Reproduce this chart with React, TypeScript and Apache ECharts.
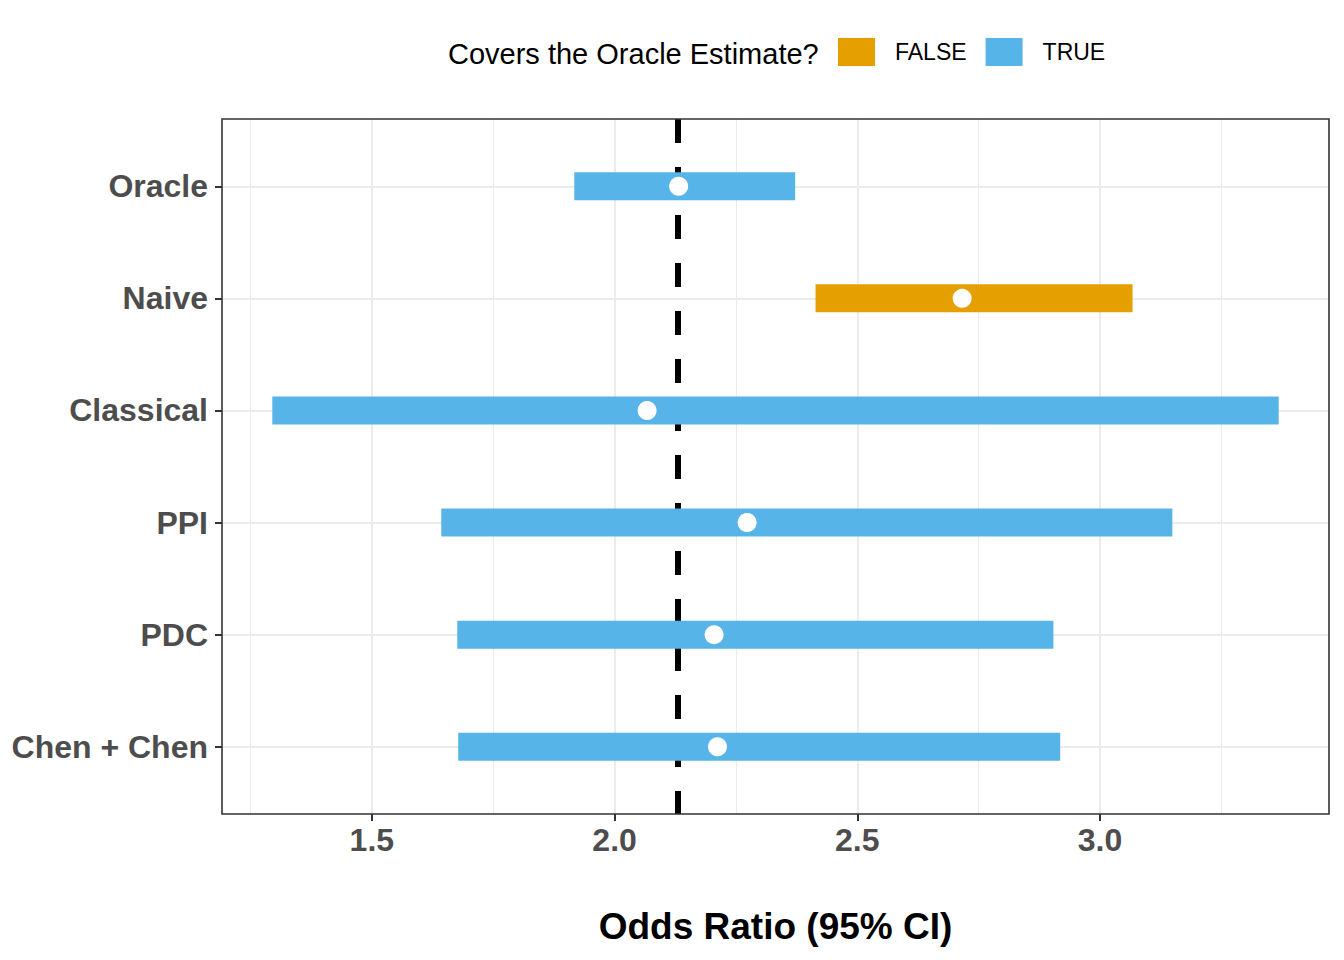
import React, { useEffect, useRef } from "react";
import * as echarts from "echarts";

// ---- Data ----
const methods = ["Oracle", "Naive", "Classical", "PPI", "PDC", "Chen + Chen"];
const estimates = [2.132, 2.716, 2.067, 2.273, 2.205, 2.212];
const lowerCI = [1.917, 2.414, 1.295, 1.643, 1.676, 1.678];
const upperCI = [2.372, 3.067, 3.368, 3.149, 2.904, 2.918];
const coversOracle = [true, false, true, true, true, true];
const oracleEstimate = 2.132;
const xTickValues = [1.5, 2.0, 2.5, 3.0];
const xMinorBreaks = [1.25, 1.75, 2.25, 2.75, 3.25];
const coverGroups = [false, true];
const coverLabels = ["FALSE", "TRUE"];
const coverColors = ["#E69F00", "#56B4E9"];
const legendTitle = "Covers the Oracle Estimate?";
const xAxisTitle = "Odds Ratio (95% CI)";

const FONT = "'Liberation Sans', Arial, Helvetica, sans-serif";

export default function App() {
  const ref = useRef<HTMLDivElement>(null);

  useEffect(() => {
    if (!ref.current) return;
    const chart = echarts.init(ref.current, null, { renderer: "svg" });

    // ggplot-like 5% expansion of the data range
    const lo = Math.min(...lowerCI);
    const hi = Math.max(...upperCI);
    const pad = 0.05 * (hi - lo);
    const xMin = lo - pad;
    const xMax = hi + pad;
    const catPositions = methods.map((_, i) => i);

    const gridLine = { color: "#EBEBEB", type: "solid" as const };

    const barSeries = coverGroups.map((flag, k) => ({
      type: "custom",
      name: coverLabels[k],
      z: 2,
      silent: true,
      itemStyle: { color: coverColors[k] },
      encode: { x: [0, 1], y: 2 },
      data: methods
        .map((_, i) => (coversOracle[i] === flag ? [lowerCI[i], upperCI[i], i] : null))
        .filter((d) => d !== null),
      renderItem: (_params: any, api: any) => {
        const y = api.value(2);
        const a = api.coord([api.value(0), y]);
        const b = api.coord([api.value(1), y]);
        const h = Math.abs(api.size([0, 0.25])[1]);
        return {
          type: "rect",
          shape: { x: a[0], y: a[1] - h / 2, width: b[0] - a[0], height: h },
          style: { fill: coverColors[k] },
        };
      },
    }));

    const option: any = {
      animation: false,
      backgroundColor: "#FFFFFF",
      grid: {
        left: 222,
        top: 119,
        width: 1107,
        height: 695,
        show: true,
        z: 10,
        borderColor: "#333333",
        borderWidth: 1.6,
        backgroundColor: "transparent",
        containLabel: false,
        outerBoundsMode: "none",
      },
      legend: {
        show: true,
        data: coverLabels,
        left: 838,
        top: 38,
        padding: 0,
        orient: "horizontal",
        itemWidth: 37,
        itemHeight: 28,
        itemGap: 19,
        icon: "rect",
        selectedMode: false,
        textStyle: {
          fontSize: 23,
          color: "#000000",
          fontFamily: FONT,
          padding: [1, 0, 0, 15],
        },
      },
      graphic: [
        {
          type: "text",
          x: 448,
          y: 53.5,
          silent: true,
          style: {
            text: legendTitle,
            fontSize: 29,
            fontFamily: FONT,
            fill: "#000000",
            align: "left",
            verticalAlign: "middle",
          },
        },
      ],
      xAxis: {
        type: "value",
        min: xMin,
        max: xMax,
        axisLine: { show: false, onZero: false },
        axisTick: {
          show: true,
          length: 7,
          customValues: xTickValues,
          lineStyle: { color: "#333333", width: 2 },
        },
        axisLabel: {
          show: true,
          customValues: xTickValues,
          formatter: (v: number) =>
            xTickValues.some((t) => Math.abs(t - v) < 1e-9) ? v.toFixed(1) : "",
          margin: 10,
          fontSize: 32,
          fontWeight: "bold",
          color: "#4D4D4D",
          fontFamily: FONT,
        },
        splitLine: { show: false },
        minorSplitLine: { show: false },
        name: xAxisTitle,
        nameLocation: "middle",
        nameGap: 94,
        nameTextStyle: {
          fontSize: 37,
          fontWeight: "bold",
          color: "#000000",
          fontFamily: FONT,
        },
      },
      yAxis: {
        type: "value",
        min: -0.6,
        max: methods.length - 1 + 0.6,
        inverse: true,
        axisLine: { show: false, onZero: false },
        axisTick: {
          show: true,
          length: 7,
          customValues: catPositions,
          lineStyle: { color: "#333333", width: 2 },
        },
        axisLabel: {
          show: true,
          customValues: catPositions,
          formatter: (v: number) =>
            Math.abs(v - Math.round(v)) < 1e-9 && methods[Math.round(v)] ? methods[Math.round(v)] : "",
          margin: 14,
          fontSize: 32,
          fontWeight: "bold",
          color: "#4D4D4D",
          fontFamily: FONT,
        },
        splitLine: { show: false },
      },
      series: [
        {
          type: "line",
          name: "reference lines",
          data: [],
          silent: true,
          z: 1,
          markLine: {
            silent: true,
            z: 1,
            animation: false,
            symbol: ["none", "none"],
            label: { show: false },
            emphasis: { disabled: true },
            data: [
              ...catPositions.map((i) => ({ yAxis: i, lineStyle: { ...gridLine, width: 2 } })),
              ...xMinorBreaks.map((v) => ({ xAxis: v, lineStyle: { ...gridLine, width: 1 } })),
              ...xTickValues.map((v) => ({ xAxis: v, lineStyle: { ...gridLine, width: 2 } })),
              {
                xAxis: oracleEstimate,
                lineStyle: { color: "#000000", width: 6, type: [24, 24] },
              },
            ],
          },
        },
        ...barSeries,
        {
          type: "scatter",
          name: "Estimate",
          z: 3,
          silent: true,
          symbol: "circle",
          symbolSize: 19,
          itemStyle: { color: "#FFFFFF", opacity: 1, borderWidth: 0 },
          emphasis: { disabled: true },
          data: methods.map((_, i) => [estimates[i], i]),
        },
      ],
    };

    chart.setOption(option);
    return () => chart.dispose();
  }, []);

  return (
    <div
      ref={ref}
      style={{ position: "absolute", left: 0, top: 0, width: 1344, height: 960 }}
    />
  );
}
